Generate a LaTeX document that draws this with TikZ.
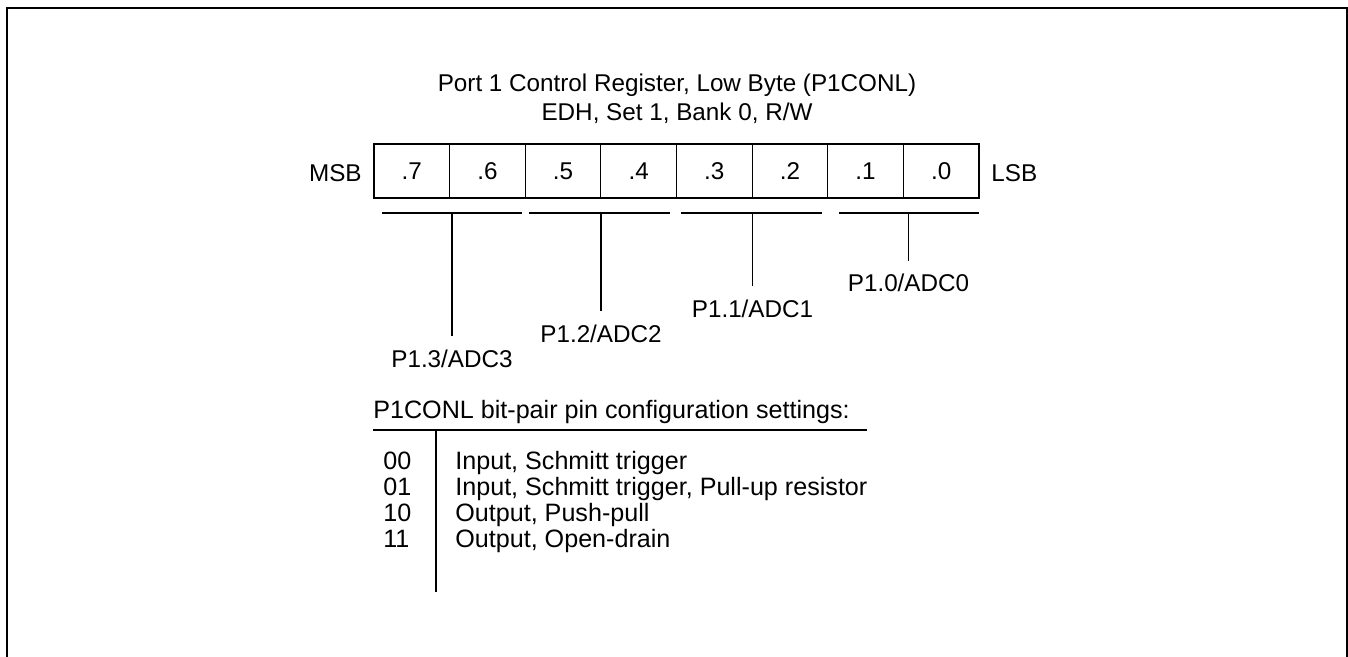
\documentclass[tikz,border=0pt]{standalone}
\usepackage{fontspec}
\setmainfont{Liberation Sans}

\begin{document}
\begin{tikzpicture}[font=\fontsize{13.8}{16}\selectfont,
  bitcell/.style={draw=black,line width=.7pt,minimum width=1.5125cm,minimum height=1.08cm,inner sep=0pt,outer sep=0pt},
  pinlabel/.style={inner xsep=0pt,inner ysep=7.4pt,anchor=base},
  plain/.style={inner sep=0pt,anchor=base west},
  tabtext/.style={plain,font=\fontsize{14.3}{16}\selectfont},
  rule/.style={black,line width=.7pt}]
\useasboundingbox (0,0) rectangle (26.96,-13.14);
\draw[black,line width=1.1pt] (0.14,-13.14) -- (0.14,-0.16) -- (26.94,-0.16) -- (26.94,-13.14);
\node[anchor=base] (title) at (13.54,-1.84) {Port 1 Control Register, Low Byte (P1CONL)};
\node[anchor=base] (addr) at (13.54,-2.42) {EDH, Set 1, Bank 0, R/W};
% register cells
\node[bitcell] (b7) at (8.23625,-3.42) {.7};
\node[bitcell] (b6) at (9.74875,-3.42) {.6};
\node[bitcell] (b5) at (11.26125,-3.42) {.5};
\node[bitcell] (b4) at (12.77375,-3.42) {.4};
\node[bitcell] (b3) at (14.28625,-3.42) {.3};
\node[bitcell] (b2) at (15.79875,-3.42) {.2};
\node[bitcell] (b1) at (17.31125,-3.42) {.1};
\node[bitcell] (b0) at (18.82375,-3.42) {.0};
\node[anchor=base east,inner sep=0pt] (msb) at (7.24,-3.64) {MSB};
\node[plain] (lsb) at (19.82,-3.64) {LSB};
% bit-pair brackets
\draw[rule] (7.64,-4.26) -- (10.44,-4.26);
\coordinate (p3) at (9.04,-4.26);
\draw[rule] (10.58,-4.26) -- (13.40,-4.26);
\coordinate (p2) at (12.02,-4.26);
\draw[rule] (13.62,-4.26) -- (16.44,-4.26);
\coordinate (p1) at (15.05,-4.26);
\draw[rule] (16.78,-4.26) -- (19.58,-4.26);
\coordinate (p0) at (18.17,-4.26);
\node[pinlabel] (l3) at (9.04,-7.34) {P1.3/ADC3};
\node[pinlabel] (l2) at (12.02,-6.84) {P1.2/ADC2};
\node[pinlabel] (l1) at (15.05,-6.34) {P1.1/ADC1};
\node[pinlabel] (l0) at (18.17,-5.84) {P1.0/ADC0};
\draw[rule] (p3) -- (l3);
\draw[rule] (p2) -- (l2);
\draw[rule] (p1) -- (l1);
\draw[rule] (p0) -- (l0);
% settings table
\node[tabtext] (cfg) at (7.46,-8.36) {P1CONL bit-pair pin configuration settings:};
\draw[rule] (7.46,-8.60) -- (17.34,-8.60);
\draw[rule] (8.72,-8.60) -- (8.72,-11.84);
\node[tabtext] (c00) at (7.66,-9.38) {00};
\node[tabtext] (d00) at (9.10,-9.38) {Input, Schmitt trigger};
\node[tabtext] (c01) at (7.66,-9.905) {01};
\node[tabtext] (d01) at (9.10,-9.905) {Input, Schmitt trigger, Pull-up resistor};
\node[tabtext] (c10) at (7.66,-10.43) {10};
\node[tabtext] (d10) at (9.10,-10.43) {Output, Push-pull};
\node[tabtext] (c11) at (7.66,-10.955) {11};
\node[tabtext] (d11) at (9.10,-10.955) {Output, Open-drain};
\end{tikzpicture}
\end{document}
